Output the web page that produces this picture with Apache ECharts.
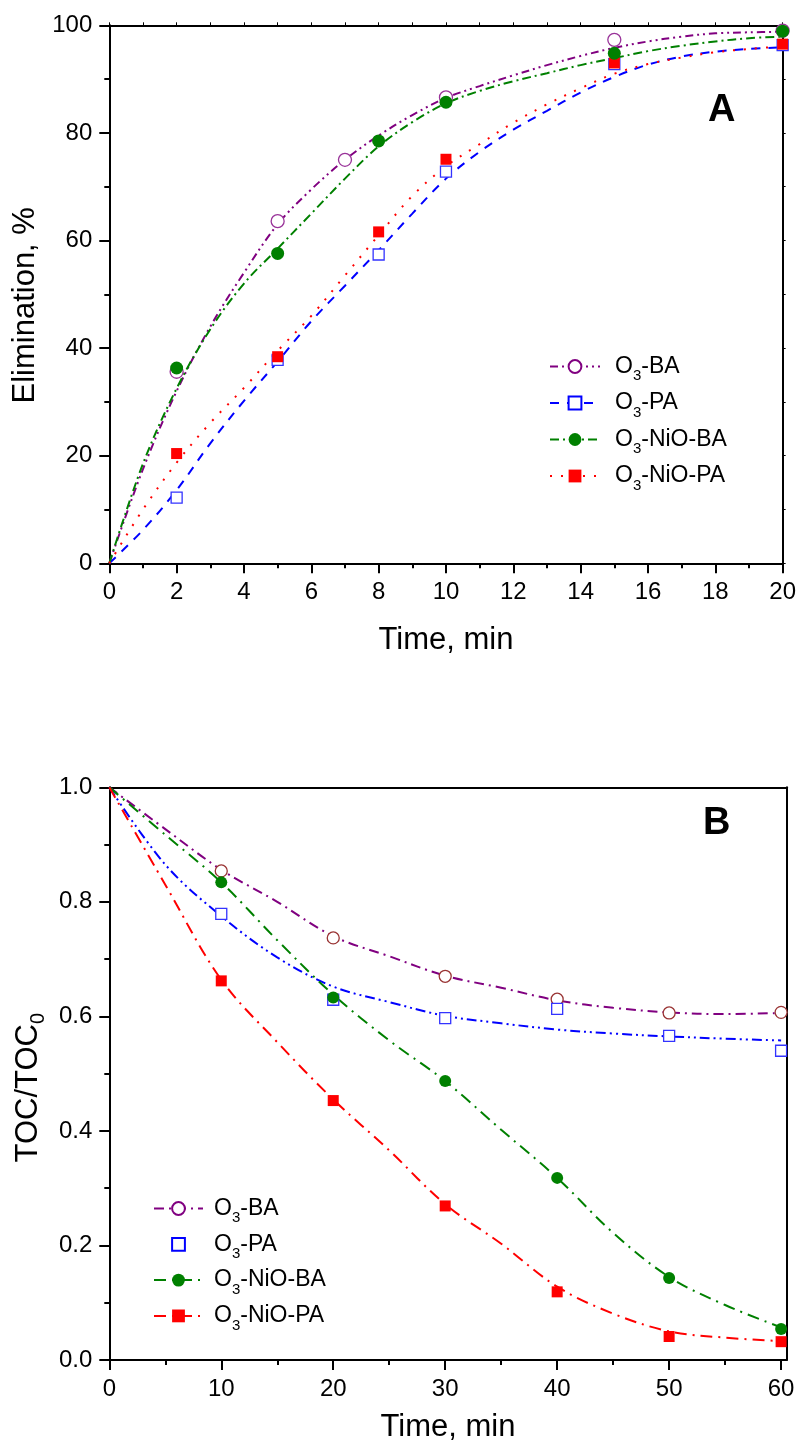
<!DOCTYPE html>
<html><head><meta charset="utf-8">
<script src="https://cdn.jsdelivr.net/npm/echarts@6/dist/echarts.min.js"></script>
<style>html,body{margin:0;padding:0;background:#fff}#c{width:799px;height:1444px}</style>
</head><body><div id="c"></div>
<script>
// ---------- Panel A : Elimination, % vs time (min) ----------
const tA_BA = [2, 5, 7, 10, 15, 20];
const yA_BA = [35.6, 63.6, 75.0, 86.6, 97.3, 99.0];
const tA_PA = [2, 5, 8, 10, 15, 20];
const yA_PA = [12.2, 37.8, 57.4, 72.8, 92.8, 96.3];
const tA_NiBA = [2, 5, 8, 10, 15, 20];
const yA_NiBA = [36.3, 57.6, 78.5, 85.7, 94.8, 98.9];
const tA_NiPA = [2, 5, 8, 10, 15, 20];
const yA_NiPA = [20.4, 38.4, 61.6, 75.1, 93.0, 96.5];
// fitted curves
const fitTimeA = [0, 1, 2, 3, 4, 5, 6, 7, 8, 9, 10, 11, 12, 13, 14, 15, 16, 17, 18, 19, 20];
const fitA_BA   = [0, 17.5, 32, 44, 54, 63, 69.5, 75, 79.5, 83.3, 86.5, 88.7, 90.7, 92.6, 94.3, 95.8, 97, 97.9, 98.5, 98.7, 98.8];
const fitA_PA   = [0, 6.2, 13.6, 22.3, 30.2, 37.5, 45, 51.6, 58.2, 65, 71.5, 76.5, 80.6, 84.1, 87.5, 90.4, 92.7, 94.2, 95.1, 95.6, 95.9];
const fitA_NiBA = [0, 18.5, 32.5, 43.5, 52, 58.5, 65, 71.5, 77.5, 82, 85.5, 87.8, 89.6, 91.1, 92.6, 93.9, 95.2, 96.2, 97, 97.6, 97.9];
const fitA_NiPA = [0, 10, 18.7, 26.1, 32.6, 39.5, 46, 53.5, 61, 68.3, 73.8, 77.9, 81.9, 85.3, 88.3, 91, 92.8, 94, 95, 95.6, 96.1];
const ticksAX = [0, 2, 4, 6, 8, 10, 12, 14, 16, 18, 20];
const ticksAY = [0, 20, 40, 60, 80, 100];

// ---------- Panel B : TOC/TOC0 vs time (min) ----------
const tB = [10, 20, 30, 40, 50, 60];
const yB_BA   = [0.854, 0.737, 0.670, 0.630, 0.606, 0.607];
const yB_PA   = [0.779, 0.629, 0.597, 0.613, 0.566, 0.540];
const yB_NiBA = [0.834, 0.633, 0.487, 0.318, 0.143, 0.054];
const yB_NiPA = [0.662, 0.453, 0.269, 0.119, 0.041, 0.032];
const fitTimeB = [0, 5, 10, 15, 20, 25, 30, 35, 40, 45, 50, 55, 60];
const fitB_BA   = [1.0, 0.927, 0.856, 0.800, 0.740, 0.705, 0.671, 0.650, 0.628, 0.615, 0.607, 0.604, 0.606];
const fitB_PA   = [1.0, 0.865, 0.775, 0.703, 0.652, 0.625, 0.601, 0.588, 0.577, 0.570, 0.565, 0.561, 0.558];
const fitB_NiBA = [1.0, 0.917, 0.834, 0.733, 0.638, 0.558, 0.487, 0.402, 0.318, 0.222, 0.145, 0.096, 0.057];
const fitB_NiPA = [1.0, 0.830, 0.664, 0.555, 0.455, 0.366, 0.272, 0.203, 0.128, 0.081, 0.050, 0.039, 0.033];
const ticksBX = [0, 10, 20, 30, 40, 50, 60];
const minorBX = [5, 15, 25, 35, 45, 55];
const ticksBY = [0, 0.2, 0.4, 0.6, 0.8, 1.0];

const legendLabels = {
  'O3-BA': '{b|O}{s|3}{b|-BA}',
  'O3-PA': '{b|O}{s|3}{b|-PA}',
  'O3-NiO-BA': '{b|O}{s|3}{b|-NiO-BA}',
  'O3-NiO-PA': '{b|O}{s|3}{b|-NiO-PA}'
};

const FONT = '"Liberation Sans", Arial, sans-serif';
const C = {purple: '#800080', purpleMk: '#993399', brownMk: '#993333', blue: '#0000ff', blueMk: '#3333ff', green: '#008000', red: '#ff0000'};

function pairs(ts, vs) { return ts.map((t, i) => [t, vs[i]]); }

function curve(name, xi, yi, xs, ys, color, dash, symbol) {
  return {
    type: 'line', name: name, xAxisIndex: xi, yAxisIndex: yi,
    data: pairs(xs, ys), smooth: 0.35, showSymbol: false, symbol: symbol,
    itemStyle: {color: color},
    lineStyle: {color: color, width: 2, type: dash},
    z: 2, silent: true
  };
}
function pts(name, xi, yi, xs, ys, symbol, size, fill, stroke) {
  return {
    type: 'scatter', name: name, xAxisIndex: xi, yAxisIndex: yi,
    data: pairs(xs, ys), symbol: symbol, symbolSize: size,
    itemStyle: {color: fill, borderColor: stroke, borderWidth: fill === '#ffffff' ? 1.3 : 0, opacity: 1},
    z: 3, silent: true
  };
}

const tickLabel = {color: '#000', fontSize: 24, fontFamily: FONT, margin: 17};
const axisLineS = {show: true, onZero: false, lineStyle: {color: '#000', width: 2}};
const richSub = (big, small, lh) => ({
  b: {fontSize: big, fontFamily: FONT, color: '#000', lineHeight: lh},
  s: {fontSize: small, fontFamily: FONT, color: '#000', lineHeight: small, verticalAlign: 'bottom'}
});

const chart = echarts.init(document.getElementById('c'), null, {renderer: 'canvas'});
chart.setOption({
  animation: false,
  backgroundColor: '#ffffff',
  grid: [
    {left: 109.3, top: 25.3, width: 673.7, height: 538, containLabel: false},
    {left: 109.3, top: 787.3, width: 677.4, height: 577.1, containLabel: false}
  ],
  xAxis: [
    {type: 'value', gridIndex: 0, position: 'bottom', min: 0, max: 20, interval: 2,
     axisLine: axisLineS, axisTick: {show: true, length: 10, lineStyle: {width: 2, color: '#000'}},
     minorTick: {show: true, splitNumber: 2, length: 5, lineStyle: {width: 2, color: '#000'}},
     axisLabel: Object.assign({}, tickLabel, {customValues: ticksAX}), splitLine: {show: false},
     name: 'Time, min', nameLocation: 'middle', nameGap: 62,
     nameTextStyle: {fontSize: 31, fontFamily: FONT, color: '#000'}},
    {type: 'value', gridIndex: 0, position: 'top', min: 0, max: 20, interval: 1,
     axisLine: axisLineS, axisTick: {show: true, length: 3, lineStyle: {width: 1, color: '#000'}},
     axisLabel: {show: false}, splitLine: {show: false}},
    {type: 'value', gridIndex: 1, position: 'bottom', min: 0, max: 60.5,
     axisLine: axisLineS, axisTick: {show: true, length: 10, customValues: ticksBX, lineStyle: {width: 2, color: '#000'}},
     axisLabel: Object.assign({}, tickLabel, {customValues: ticksBX}), splitLine: {show: false},
     name: 'Time, min', nameLocation: 'middle', nameGap: 52,
     nameTextStyle: {fontSize: 31, fontFamily: FONT, color: '#000'}},
    {type: 'value', gridIndex: 1, position: 'bottom', min: 0, max: 60.5,
     axisLine: {show: false, onZero: false}, axisTick: {show: true, length: 5, customValues: minorBX, lineStyle: {width: 2, color: '#000'}},
     axisLabel: {show: false}, splitLine: {show: false}},
    {type: 'value', gridIndex: 1, position: 'top', min: 0, max: 60.5,
     axisLine: axisLineS, axisTick: {show: false}, axisLabel: {show: false}, splitLine: {show: false}}
  ],
  yAxis: [
    {type: 'value', gridIndex: 0, position: 'left', min: 0, max: 100, interval: 20,
     axisLine: axisLineS, axisTick: {show: true, length: 10, lineStyle: {width: 2, color: '#000'}},
     minorTick: {show: true, splitNumber: 2, length: 5, lineStyle: {width: 2, color: '#000'}},
     axisLabel: Object.assign({}, tickLabel, {customValues: ticksAY}), splitLine: {show: false},
     name: 'Elimination, %', nameLocation: 'middle', nameGap: 67, nameRotate: 90,
     nameTextStyle: {fontSize: 31, fontFamily: FONT, color: '#000', padding: [0, 22, 0, 0]}},
    {type: 'value', gridIndex: 0, position: 'right', min: 0, max: 100, interval: 10,
     axisLine: axisLineS, axisTick: {show: true, length: 3, lineStyle: {width: 1, color: '#000'}},
     axisLabel: {show: false}, splitLine: {show: false}},
    {type: 'value', gridIndex: 1, position: 'left', min: 0, max: 1, interval: 0.2,
     axisLine: axisLineS, axisTick: {show: true, length: 10, lineStyle: {width: 2, color: '#000'}},
     minorTick: {show: true, splitNumber: 2, length: 5, lineStyle: {width: 2, color: '#000'}},
     axisLabel: Object.assign({}, tickLabel, {customValues: ticksBY, formatter: v => v.toFixed(1)}), splitLine: {show: false},
     name: '{b|TOC/TOC}{s|0}', nameLocation: 'middle', nameGap: 49, nameRotate: 90,
     nameTextStyle: {fontSize: 31, fontFamily: FONT, color: '#000', padding: [0, 28, 0, 0], rich: richSub(31, 20, 40)}},
    {type: 'value', gridIndex: 1, position: 'right', min: 0, max: 1,
     axisLine: axisLineS, axisTick: {show: false}, axisLabel: {show: false}, splitLine: {show: false}}
  ],
  legend: [
    {orient: 'vertical', left: 549, top: 355, padding: 0, itemGap: 8, itemWidth: 50, itemHeight: 16,
     selectedMode: false, data: ['A:O3-BA', 'A:O3-PA', 'A:O3-NiO-BA', 'A:O3-NiO-PA'],
     formatter: n => legendLabels[n.slice(2)],
     textStyle: {fontSize: 23, fontFamily: FONT, color: '#000', padding: [0, 0, 0, 10], rich: richSub(23, 15, 34)}},
    {orient: 'vertical', left: 153, top: 1197, padding: 0, itemGap: 7.3, itemWidth: 49, itemHeight: 16,
     selectedMode: false,
     data: ['B:O3-BA', {name: 'B:O3-PA', lineStyle: {opacity: 0}}, 'B:O3-NiO-BA', 'B:O3-NiO-PA'],
     formatter: n => legendLabels[n.slice(2)],
     textStyle: {fontSize: 23, fontFamily: FONT, color: '#000', padding: [0, 0, 0, 6], rich: richSub(23, 15, 34)}}
  ],
  graphic: [
    {type: 'text', left: 708, top: 92, style: {text: 'A', font: 'bold 38px ' + FONT, fill: '#000'}},
    {type: 'text', left: 703, top: 805, style: {text: 'B', font: 'bold 38px ' + FONT, fill: '#000'}}
  ],
  series: [
    curve('A:O3-BA', 0, 0, fitTimeA, fitA_BA, C.purple, [8, 4, 2, 4, 2, 4], 'emptyCircle'),
    curve('A:O3-PA', 0, 0, fitTimeA, fitA_PA, C.blue, [9, 8], 'emptyRect'),
    curve('A:O3-NiO-BA', 0, 0, fitTimeA, fitA_NiBA, C.green, [9, 4, 2, 4], 'circle'),
    curve('A:O3-NiO-PA', 0, 0, fitTimeA, fitA_NiPA, C.red, [2, 9], 'rect'),
    pts('A:pts-BA', 0, 0, tA_BA, yA_BA, 'circle', 13, '#ffffff', C.purpleMk),
    pts('A:pts-PA', 0, 0, tA_PA, yA_PA, 'rect', 11, '#ffffff', C.blueMk),
    pts('A:pts-NiPA', 0, 0, tA_NiPA, yA_NiPA, 'rect', 11, C.red, C.red),
    pts('A:pts-NiBA', 0, 0, tA_NiBA, yA_NiBA, 'circle', 13, C.green, C.green),

    curve('B:O3-BA', 2, 2, fitTimeB, fitB_BA, C.purple, [10, 5, 2, 5], 'emptyCircle'),
    curve('B:O3-PA', 2, 2, fitTimeB, fitB_PA, C.blue, [10, 4, 2, 4, 2, 4], 'emptyRect'),
    curve('B:O3-NiO-BA', 2, 2, fitTimeB, fitB_NiBA, C.green, [12, 6, 2, 6], 'circle'),
    curve('B:O3-NiO-PA', 2, 2, fitTimeB, fitB_NiPA, C.red, [12, 6, 2, 6], 'rect'),
    pts('B:pts-BA', 2, 2, tB, yB_BA, 'circle', 12, '#ffffff', C.brownMk),
    pts('B:pts-PA', 2, 2, tB, yB_PA, 'rect', 11, '#ffffff', C.blueMk),
    pts('B:pts-NiPA', 2, 2, tB, yB_NiPA, 'rect', 11, C.red, C.red),
    pts('B:pts-NiBA', 2, 2, tB, yB_NiBA, 'circle', 12, C.green, C.green)
  ]
});
</script></body></html>
